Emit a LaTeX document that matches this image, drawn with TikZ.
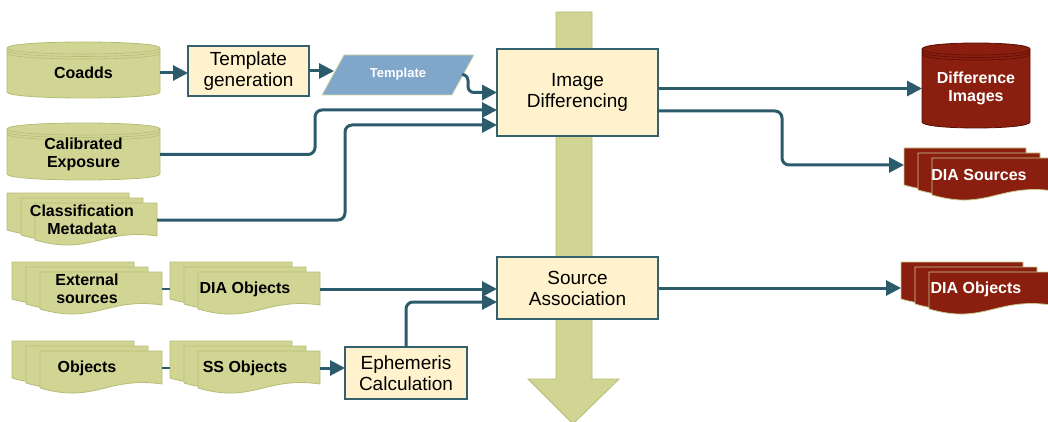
\documentclass[tikz,border=0pt]{standalone}
\usepackage{fontspec}
\setmainfont{Liberation Sans}
\usepackage{xcolor}
\usepackage{tikz}
\usetikzlibrary{arrows.meta}
\definecolor{flowLine}{HTML}{2C5B6C}
\definecolor{boxFill}{HTML}{FFF2CC}
\definecolor{boxLine}{HTML}{34606F}
\definecolor{dataGreen}{HTML}{D1D594}
\definecolor{dataGreenLine}{HTML}{B6BC76}
\definecolor{dataRed}{HTML}{8A1F0F}
\definecolor{dataRedLine}{HTML}{5A0F05}
\definecolor{stackRedLine}{HTML}{C9CB8C}
\definecolor{tmplFill}{HTML}{80A6C9}
\definecolor{tmplLine}{HTML}{D4D8A8}

\tikzset{
    datatext/.style={font=\bfseries\fontsize{16}{18}\selectfont, align=center, inner sep=0, outer sep=0},
    procbox/.style={draw=boxLine, fill=boxFill, line width=1.2pt, font=\fontsize{19}{21}\selectfont, align=center, inner sep=0, outer sep=0},
    flow/.style={flowLine, line width=3pt, -{Triangle[length=15pt,width=15pt]}},
    link/.style={flowLine, line width=1.2pt}
}

\newcommand{\datacyl}[9]{%
    \filldraw[fill=#6, draw=#7, line width=0.8pt] (#2,#3+6) -- (#2,#5-6) .. controls (#2,#5+2) and (#4,#5+2) .. (#4,#5-6) -- (#4,#3+6) .. controls (#4,#3-2) and (#2,#3-2) .. cycle;
    \foreach \d in {0,2.5,5}
        \draw[#7, line width=0.6pt] (#2,#3+6+\d) .. controls (#2,#3+14+\d) and (#4,#3+14+\d) .. (#4,#3+6+\d);
    \node[datatext, text=#8, minimum width={#4-#2}, minimum height=20] (#1) at ({(#2+#4)/2},{(#3+#5)/2+3}) {#9};
}

\newcommand{\datastack}[7]{%
    \foreach \k [evaluate=\k as \px using #2+14*\k, evaluate=\k as \py using #3+5*\k] in {0,1,2}
        \filldraw[fill=#4, draw=#5, line width=0.8pt] (\px,\py) -- (\px+122,\py) -- (\px+122,\py+33) .. controls (\px+67,\py+25) and (\px+55,\py+53) .. (\px,\py+37) -- cycle;
    \node[datatext, text=#6, minimum width=150, minimum height=40] (#1) at (#2+75,#3+27) {#7};
}

\begin{document}
\begin{tikzpicture}[x=1pt, y=-1pt]
    \useasboundingbox (0,0) rectangle (1048,422);
    \clip (0,0) rectangle (1048,422);

    \filldraw[fill=dataGreen, draw=dataGreenLine, line width=0.8pt] (556,12) -- (592,12) -- (592,379) -- (619,379) -- (573,424) -- (528,379) -- (556,379) -- cycle;

    \datacyl{coadds}{7}{42}{160}{98}{dataGreen}{dataGreenLine}{black}{Coadds}
    \datacyl{calexp}{7}{123}{160}{180}{dataGreen}{dataGreenLine}{black}{Calibrated\\Exposure}
    \datacyl{diffimg}{922}{43}{1030}{128}{dataRed}{dataRedLine}{white}{Difference\\Images}

    \datastack{clsmeta}{7}{193}{dataGreen}{dataGreenLine}{black}{Classification\\Metadata}
    \datastack{extsrc}{12}{262}{dataGreen}{dataGreenLine}{black}{External\\sources}
    \datastack{diaobjin}{170}{262}{dataGreen}{dataGreenLine}{black}{DIA Objects}
    \datastack{objects}{12}{341}{dataGreen}{dataGreenLine}{black}{Objects}
    \datastack{ssobj}{170}{341}{dataGreen}{dataGreenLine}{black}{SS Objects}
    \datastack{diasrc}{904}{148}{dataRed}{stackRedLine}{white}{DIA Sources}
    \datastack{diaobjout}{901}{262}{dataRed}{stackRedLine}{white}{DIA Objects}

    \node[procbox, minimum width=121, minimum height=50] (tgen) at (248.5,71) {Template\\generation};
    \node[procbox, minimum width=161, minimum height=87] (idiff) at (577.5,92.5) {Image\\Differencing};
    \node[procbox, minimum width=161, minimum height=62] (srcassoc) at (577.5,288) {Source\\Association};
    \node[procbox, minimum width=122, minimum height=52] (ephem) at (406,373) {Ephemeris\\Calculation};

    \filldraw[fill=tmplFill, draw=tmplLine, line width=0.8pt] (344,55) -- (474,55) -- (452,95) -- (322,95) -- cycle;
    \node[font=\bfseries\fontsize{13}{15}\selectfont, text=white, minimum width=128, minimum height=20, inner sep=0, outer sep=0] (tmpl) at (398,74.5) {Template};

    \draw[flow] (coadds.east) -- (coadds.east -| tgen.west);
    \draw[flow] (tgen.east) -- (tgen.east -| tmpl.west);
    \draw[flow, rounded corners=6] (tmpl.east) -| ([xshift=-29pt]idiff.west) -- (idiff.west);
    \draw[flow, rounded corners=7] (calexp.east) -| ([xshift=-182pt,yshift=-17.5pt]idiff.west) -- ([yshift=-17.5pt]idiff.west);
    \draw[flow, rounded corners=7] (clsmeta.east) -| ([xshift=-152pt,yshift=-32.5pt]idiff.west) -- ([yshift=-32.5pt]idiff.west);
    \draw[link] (extsrc.east) -- (diaobjin.west);
    \draw[flow] (diaobjin.east) -- (diaobjin.east -| srcassoc.west);
    \draw[link] (objects.east) -- (ssobj.west);
    \draw[flow] (ssobj.east) -- (ssobj.east -| ephem.west);
    \draw[flow, rounded corners=7] (ephem.north) |- ([yshift=-14pt]srcassoc.west);
    \draw[flow] (diffimg.west -| idiff.east) -- (diffimg.west);
    \draw[flow, rounded corners=7] ([yshift=-18.5pt]idiff.east) -| ([xshift=-122pt,yshift=10pt]diasrc.west) -- ([yshift=10pt]diasrc.west);
    \draw[flow] (srcassoc.east) -- (srcassoc.east -| diaobjout.west);
\end{tikzpicture}
\end{document}
